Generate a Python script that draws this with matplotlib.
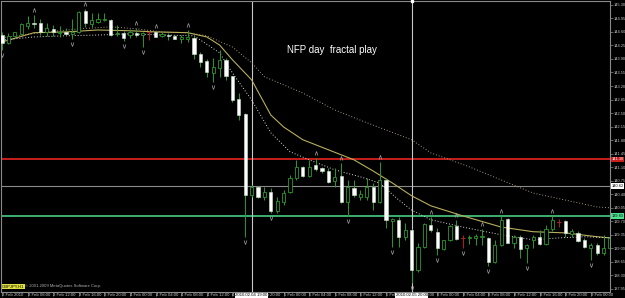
import matplotlib
matplotlib.use('Agg')
import matplotlib.pyplot as plt
import numpy as np

# H1 bars, 3 Feb 2010 04:00 .. 9 Feb 2010 03:00 (weekend skipped)
opens = [144.52, 144.32, 144.50, 144.55, 144.76, 144.83, 144.83, 144.60, 144.68, 144.58,
         144.60, 144.55, 144.60, 145.14, 144.81, 144.86, 144.91, 144.91, 144.55, 144.58,
         144.52, 144.58, 144.52, 144.60, 144.60, 144.50, 144.52, 144.50, 144.42, 144.42,
         144.45, 144.03, 143.85, 143.54, 143.67, 143.88, 143.46, 142.87, 142.48, 140.38,
         140.59, 140.33, 140.46, 139.97, 140.20, 140.46, 140.82, 141.11, 140.87, 141.16,
         141.08, 141.00, 140.75, 140.87, 140.20, 140.56, 140.33, 140.33, 140.59, 140.20,
         140.77, 139.71, 139.74, 139.30, 139.48, 138.44, 139.04, 139.61, 139.43, 138.99,
         139.22, 139.58, 139.27, 139.28, 139.27, 139.30, 139.27, 138.65, 139.09, 139.76,
         139.14, 139.30, 139.01, 139.22, 139.30, 139.11, 139.50, 139.69, 139.71, 139.37,
         139.40, 139.22, 139.01, 139.09, 138.88, 139.01]
highs = [144.60, 144.58, 144.60, 144.83, 145.02, 145.04, 144.94, 144.83, 144.78, 144.76,
         144.70, 144.94, 145.14, 145.20, 145.09, 145.09, 145.09, 144.94, 144.78, 144.63,
         144.68, 144.70, 144.60, 144.63, 144.63, 144.60, 144.58, 144.52, 144.52, 144.65,
         144.52, 144.08, 143.90, 143.93, 144.14, 143.93, 143.46, 143.02, 142.51, 140.64,
         140.62, 140.59, 140.56, 140.33, 140.51, 140.90, 141.29, 141.13, 141.29, 141.34,
         141.11, 141.08, 141.08, 141.21, 140.77, 140.77, 140.51, 140.82, 140.69, 141.24,
         140.82, 139.79, 139.82, 139.66, 139.50, 139.14, 139.66, 139.82, 139.53, 139.22,
         139.61, 139.74, 139.35, 139.35, 139.37, 139.50, 139.30, 139.22, 139.84, 139.79,
         139.35, 139.35, 139.11, 139.35, 139.48, 139.61, 139.84, 139.76, 139.74, 139.50,
         139.45, 139.27, 139.14, 139.14, 139.35, 139.35]
lows = [144.14, 144.29, 144.47, 144.52, 144.68, 144.70, 144.52, 144.50, 144.50, 144.47,
        144.52, 144.42, 144.58, 144.73, 144.73, 144.83, 144.89, 144.50, 144.50, 144.37,
        144.45, 144.47, 144.21, 144.39, 144.47, 144.47, 144.39, 144.42, 144.32, 144.34,
        143.90, 143.70, 143.44, 143.31, 143.44, 143.36, 142.79, 142.32, 139.30, 140.33,
        140.30, 140.25, 139.92, 139.92, 140.12, 140.43, 140.77, 140.85, 140.85, 141.00,
        140.95, 140.69, 140.59, 140.18, 139.84, 140.33, 140.25, 140.25, 139.99, 140.18,
        139.53, 139.04, 139.04, 139.22, 138.11, 138.39, 139.01, 139.43, 138.83, 138.96,
        139.19, 139.22, 139.01, 139.11, 139.09, 139.09, 138.55, 138.62, 139.06, 139.14,
        139.01, 138.75, 138.62, 139.01, 139.09, 139.09, 139.45, 139.55, 139.30, 139.30,
        139.17, 139.01, 138.70, 138.83, 138.83, 138.96]
closes = [144.32, 144.50, 144.60, 144.81, 144.83, 144.81, 144.60, 144.70, 144.60, 144.60,
          144.55, 144.60, 145.12, 144.83, 144.91, 144.94, 144.94, 144.52, 144.58, 144.45,
          144.60, 144.52, 144.58, 144.59, 144.47, 144.55, 144.50, 144.42, 144.47, 144.47,
          144.03, 143.82, 143.57, 143.70, 143.88, 143.46, 142.84, 142.45, 140.38, 140.59,
          140.33, 140.46, 139.97, 140.23, 140.43, 140.82, 141.11, 140.87, 141.11, 141.06,
          141.00, 140.72, 140.85, 140.20, 140.59, 140.38, 140.41, 140.59, 140.20, 140.77,
          139.74, 139.76, 139.30, 139.48, 138.44, 139.04, 139.63, 139.48, 139.01, 139.22,
          139.58, 139.24, 139.26, 139.29, 139.32, 139.32, 138.65, 139.09, 139.74, 139.14,
          139.30, 138.99, 139.09, 139.30, 139.11, 139.50, 139.74, 139.68, 139.40, 139.45,
          139.19, 139.04, 139.09, 138.88, 139.01, 139.27]
red_doji = [23, 72, 87]

# fractals (bar index)
up_fractals = [5, 13, 21, 24, 29, 49, 53, 59, 67, 71, 75, 78, 86]
down_fractals = [0, 11, 19, 22, 33, 38, 42, 54, 61, 64, 68, 72, 76, 82, 92]

# moving averages (bar index, price)
ma_fast_idx = [0, 5, 10, 15, 20, 24, 29, 32, 34, 36, 39, 42, 44, 47, 51, 55, 58, 61, 64, 67, 72, 78, 83, 88, 93, 95]
ma_fast = [144.34, 144.58, 144.60, 144.65, 144.63, 144.60, 144.58, 144.47, 144.26, 143.88, 143.36, 142.45, 142.14,
           141.81, 141.55, 141.29, 141.00, 140.69, 140.36, 140.10, 139.84, 139.55, 139.43, 139.40, 139.30, 139.27]
ma_mid_idx = [0, 5, 10, 15, 20, 25, 30, 31, 34, 36, 39, 42, 45, 48, 52, 56, 59, 62, 64, 67, 72, 78, 83, 87, 91, 95]
ma_mid = [144.39, 144.47, 144.50, 144.52, 144.55, 144.52, 144.50, 144.39, 144.06, 143.54, 142.84, 141.99, 141.50,
          141.29, 141.03, 140.85, 140.69, 140.25, 139.99, 139.74, 139.55, 139.35, 139.22, 139.27, 139.30, 139.27]
ma_slow_idx = [0, 6, 12, 17, 21, 25, 29, 32, 36, 39, 41, 47, 52, 57, 64, 67, 73, 78, 83, 88, 93, 95]
ma_slow = [144.45, 144.58, 144.68, 144.73, 144.68, 144.60, 144.58, 144.50, 144.21, 143.80, 143.44, 143.02, 142.58,
           142.25, 141.81, 141.47, 141.11, 140.77, 140.43, 140.25, 140.07, 140.05]

# horizontal levels
level_red = 141.30
level_gray = 140.62
level_green = 139.83

# vertical lines (bar index, label)
vlines = [(39, '2010.02.04 19:00'), (64, '2010.02.05 20:00')]

price_ticks = [145.30, 144.95, 144.60, 144.25, 143.90, 143.55, 143.20, 142.85, 142.50, 142.15, 141.80,
               141.45, 141.10, 140.75, 140.40, 140.05, 139.70, 139.35, 139.00, 138.65, 138.30, 137.95]
time_bars = [0, 4, 8, 12, 16, 20, 24, 28, 32, 36, 40, 44, 48, 52, 56, 60, 64, 68, 72, 76, 80, 84, 88, 92]
time_labels = ['3 Feb 2010', '3 Feb 08:00', '3 Feb 12:00', '3 Feb 16:00', '3 Feb 20:00',
               '4 Feb 00:00', '4 Feb 04:00', '4 Feb 08:00', '4 Feb 12:00', '4 Feb 16:00', '4 Feb 20:00',
               '5 Feb 00:00', '5 Feb 04:00', '5 Feb 08:00', '5 Feb 12:00', '5 Feb 16:00', '5 Feb 20:00',
               '8 Feb 00:00', '8 Feb 04:00', '8 Feb 08:00', '8 Feb 12:00', '8 Feb 16:00', '8 Feb 20:00',
               '9 Feb 00:00']

plt.rcParams['font.family'] = ['Liberation Sans', 'DejaVu Sans']

fig = plt.figure(figsize=(6.25, 2.98), dpi=100, facecolor='black')
ax = fig.add_axes([1 / 625, 6 / 298, 609 / 625, 291 / 298])
ax.set_facecolor('black')

GREEN = '#2a9a2a'
x = np.arange(len(opens))
o = np.array(opens)
c = np.array(closes)

# levels
ax.axhline(level_red, color='#c81e1e', lw=1.4, zorder=1)
ax.axhline(level_gray, color='#8a8a8a', lw=0.8, zorder=1)
ax.axhline(level_green, color='#4ee08e', lw=1.1, zorder=1)

for b, lab in vlines:
    ax.axvline(b, color='#c8c8c8', lw=0.8, zorder=1)

# MAs
ax.plot(ma_slow_idx, ma_slow, color='#a8987a', lw=0.7, ls=(0, (1, 2)), zorder=2)
ax.plot(ma_fast_idx, ma_fast, color='#b8ae5c', lw=0.8, zorder=2)
ax.plot(ma_mid_idx, ma_mid, color='#d8d8d8', lw=0.7, ls=(0, (1, 2)), zorder=2)

# candles
wick_colors = ['#b02020' if i in red_doji else GREEN for i in x]
ax.vlines(x, lows, highs, colors=wick_colors, lw=0.7, zorder=3)
bull = c > o
bear = c < o
body_h = np.maximum(np.abs(c - o), 0.012)
body_b = np.minimum(o, c)
ax.bar(x[bull], body_h[bull], bottom=body_b[bull], width=0.5, color='black', edgecolor=GREEN, lw=0.6, zorder=4)
ax.bar(x[bear], body_h[bear], bottom=body_b[bear], width=0.5, color='white', edgecolor='#cfe8cf', lw=0.4, zorder=4)
for i in red_doji:
    ax.hlines(c[i], i - 0.3, i + 0.3, color='#b02020', lw=0.8, zorder=4)

# fractals
ax.scatter(up_fractals, np.array(highs)[up_fractals] + 0.13, marker=r'$\wedge$', s=9, color='#a8a8a8', lw=0, zorder=5)
ax.scatter(down_fractals, np.array(lows)[down_fractals] - 0.13, marker=r'$\vee$', s=9, color='#a8a8a8', lw=0, zorder=5)

ax.text(44.5, 144.14, 'NFP day  fractal play', color='white', fontsize=7, va='center', ha='left')

ax.set_xlim(-0.156, 95.0)
ax.set_ylim(137.87, 145.40)

for s in ax.spines.values():
    s.set_color('#8a8a8a')
    s.set_linewidth(0.8)

# price axis on the right
ax.yaxis.tick_right()
ax.set_yticks(price_ticks)
ax.set_yticklabels([f'{p:.2f}' for p in price_ticks])
ax.tick_params(axis='y', colors='#8a8a8a', labelcolor='#c8c8c8', labelsize=2.8, length=2, width=0.5, pad=1)

# time axis
ax.set_xticks(time_bars)
ax.set_xticklabels(time_labels)
ax.tick_params(axis='x', colors='#8a8a8a', labelcolor='#c8c8c8', labelsize=3.1, length=3, width=0.5, pad=-2.4)
for t in ax.get_xticklabels():
    t.set_horizontalalignment('left')
    t.set_x(t.get_position()[0])

ytr = ax.get_yaxis_transform()
xtr = ax.get_xaxis_transform()
ax.text(1.0025, level_red, f'{level_red:.2f}', transform=ytr, color='white', fontsize=2.8, va='center', ha='left',
        bbox=dict(fc='#c81e1e', ec='none', pad=0.6), clip_on=False, zorder=6)
ax.text(1.0025, level_gray, f'{level_gray:.2f}', transform=ytr, color='black', fontsize=2.8, va='center', ha='left',
        bbox=dict(fc='white', ec='none', pad=0.6), clip_on=False, zorder=6)
ax.text(1.0025, level_green, f'{level_green:.2f}', transform=ytr, color='black', fontsize=2.8, va='center', ha='left',
        bbox=dict(fc='#4ee08e', ec='none', pad=0.6), clip_on=False, zorder=6)

for b, lab in vlines:
    ax.text(b, -0.004, lab, transform=xtr, color='black', fontsize=3.1, va='top', ha='center',
            bbox=dict(fc='white', ec='none', pad=0.4), clip_on=False, zorder=6)
ax.plot([vlines[1][0]], [1.0], marker='s', ms=2, color='white', transform=xtr, clip_on=False, zorder=6)

# screenshot caption
ax.text(0.002, 0.02, 'GBPJPY,H1', transform=ax.transAxes, color='black', fontsize=3, va='center', ha='left',
        bbox=dict(fc='#e0e040', ec='none', pad=0.3), zorder=6)
ax.text(0.04, 0.02, '\u00a9 2001-2009 MetaQuotes Software Corp.', transform=ax.transAxes, color='#b0b0b0',
        fontsize=3, va='center', ha='left', zorder=6)

fig.savefig('out.png', dpi=100, facecolor='black')
